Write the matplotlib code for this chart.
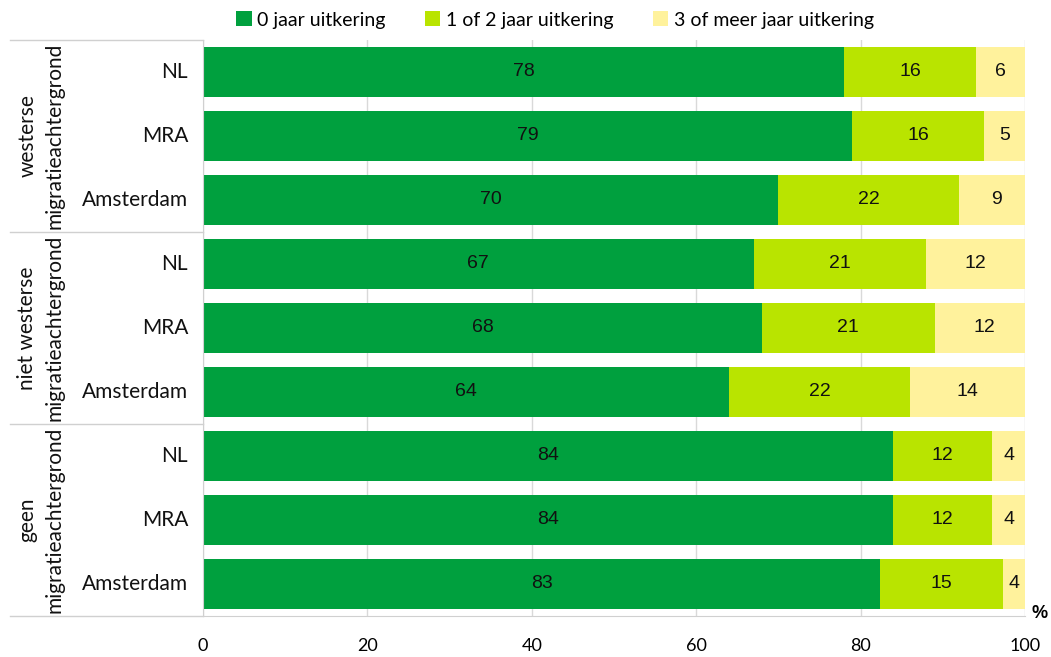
import matplotlib.pyplot as plt
import numpy as np

groups = ["westerse\nmigratieachtergrond", "niet westerse\nmigratieachtergrond", "geen\nmigratieachtergrond"]
regions = ["NL", "MRA", "Amsterdam"]
series = ["0 jaar uitkering", "1 of 2 jaar uitkering", "3 of meer jaar uitkering"]
# rows top to bottom: per group NL, MRA, Amsterdam (bar lengths as drawn)
zero = [78, 79, 70, 67, 68, 64, 84, 84, 82.4]
one_two = [16, 16, 22, 21, 21, 22, 12, 12, 14.9]
three_plus = [6, 5, 9, 12, 12, 14, 4, 4, 2.7]
# printed labels
zero_lbl = [78, 79, 70, 67, 68, 64, 84, 84, 83]
one_two_lbl = [16, 16, 22, 21, 21, 22, 12, 12, 15]
three_plus_lbl = [6, 5, 9, 12, 12, 14, 4, 4, 4]
colors = ["#00A03E", "#B9E400", "#FFF29C"]
ticks = [0, 20, 40, 60, 80, 100]

txt_font = ["Lato", "DejaVu Sans"]
num_font = ["Liberation Sans", "DejaVu Sans"]

fig = plt.figure(figsize=(10.51, 6.57), dpi=100)
W, H = 1051, 657
ax = fig.add_axes([203 / W, 1 - 616 / H, (1025 - 203) / W, 576 / H])

n = len(zero)
y = np.arange(n)
vals = [zero, one_two, three_plus]
lbls = [zero_lbl, one_two_lbl, three_plus_lbl]
left = np.zeros(n)
for v, lb, c, s in zip(vals, lbls, colors, series):
    v = np.array(v, dtype=float)
    ax.barh(y, v, left=left, height=0.78, color=c, label=s, zorder=2)
    for yi, li, vi, t in zip(y, left, v, lb):
        ax.text(li + vi / 2, yi, str(t), ha="center", va="center",
                fontsize=14, family=num_font, color="#111111", zorder=3)
    left += v

ax.set_xlim(0, 100)
ax.set_ylim(n - 0.5, -0.5)
ax.set_xticks(ticks)
ax.set_xticklabels([str(t) for t in ticks], family=txt_font, fontsize=13)
ax.tick_params(axis="x", length=0, pad=16)
ax.set_yticks([])
ax.grid(axis="x", color="#D9D9D9", lw=1, zorder=0)
for sp in ["top", "right"]:
    ax.spines[sp].set_visible(False)
ax.spines["left"].set_color("#D0D0D0")
ax.spines["bottom"].set_color("#D0D0D0")

# left category labels and group separators
for i in range(n):
    fig.text(188 / W, 1 - (72 + 64 * i) / H, regions[i % 3], ha="right", va="center",
             fontsize=15, family=txt_font, color="#111111")
for k in range(4):
    yy = 1 - (40 + 192 * k) / H
    fig.add_artist(plt.Line2D([10 / W, 203 / W], [yy, yy], color="#D0D0D0", lw=1))
for k, g in enumerate(groups):
    fig.text(41 / W, 1 - (136 + 192 * k) / H, g, rotation=90, ha="center", va="center",
             fontsize=15, family=txt_font, color="#111111", linespacing=1.45,
             multialignment="center")

fig.text(1040 / W, 1 - 614 / H, "%", ha="center", va="center", fontsize=13,
         fontweight="bold", family=num_font)

handles, labels = ax.get_legend_handles_labels()
fig.legend(handles, labels, loc="center", bbox_to_anchor=(555 / W, 1 - 20 / H), ncol=3,
           frameon=False, prop={"family": txt_font, "size": 14}, handlelength=0.8,
           handleheight=0.8, handletextpad=0.3, columnspacing=2.0)

fig.savefig("out.png", dpi=100)
